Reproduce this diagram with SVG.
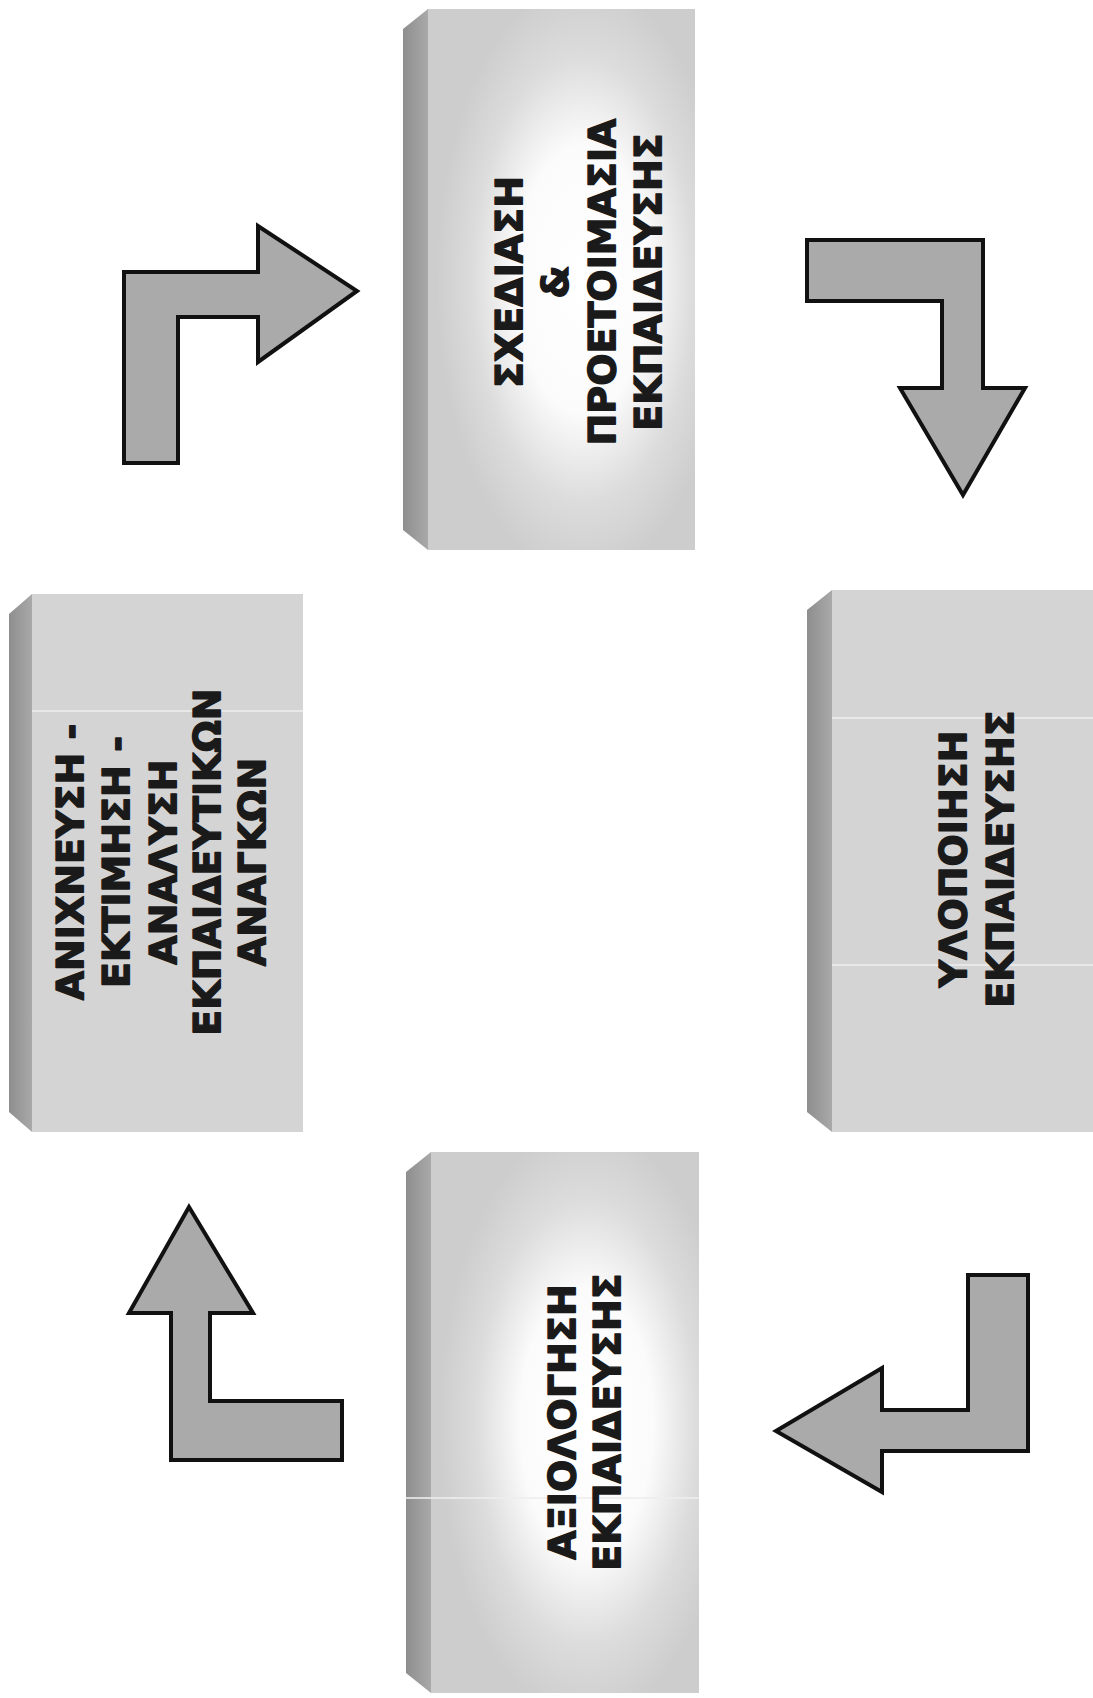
<svg xmlns="http://www.w3.org/2000/svg" width="1093" height="1698" viewBox="0 0 1093 1698">
  <style>
    .lbl { font-family: "DejaVu Sans", Verdana, sans-serif; font-weight: bold; font-size: 38px; fill: #1a1a1a; stroke: #1a1a1a; stroke-width: 1.4; stroke-linejoin: round; text-anchor: middle; }
    .side { fill: url(#sideShade); }
    .flat { fill: #d4d4d4; }
    .glow { fill: url(#frontGlow); }
    .arrow { fill: #aaaaaa; stroke: #111111; stroke-width: 4; stroke-linejoin: miter; }
    .streak { stroke: #eeeeee; stroke-width: 2; opacity: 0.8; }
  </style>
  <defs>
    <linearGradient id="sideShade" x1="0" y1="0" x2="1" y2="0">
      <stop offset="0" stop-color="#8e8e8e"/>
      <stop offset="1" stop-color="#a9a9a9"/>
    </linearGradient>
    <radialGradient id="frontGlow" cx="0.58" cy="0.5" r="0.55">
      <stop offset="0" stop-color="#ffffff"/>
      <stop offset="0.45" stop-color="#fbfbfb"/>
      <stop offset="0.75" stop-color="#dcdcdc"/>
      <stop offset="1" stop-color="#cdcdcd"/>
    </radialGradient>
  </defs>

  <rect width="1093" height="1698" fill="#ffffff"/>

  <!-- design & preparation -->
  <g id="node-design">
    <polygon class="side" points="403,29 428,9 428,550 403,530"/>
    <rect class="glow" x="428" y="9" width="267" height="541"/>
    <text class="lbl" transform="translate(522,282) rotate(-90)">ΣΧΕΔΙΑΣΗ</text>
    <text class="lbl" transform="translate(568,282) rotate(-90)">&amp;</text>
    <text class="lbl" transform="translate(615,282) rotate(-90)">ΠΡΟΕΤΟΙΜΑΣΙΑ</text>
    <text class="lbl" transform="translate(661,282) rotate(-90)">ΕΚΠΑΙΔΕΥΣΗΣ</text>
  </g>

  <!-- needs detection / assessment / analysis -->
  <g id="node-needs">
    <polygon class="side" points="9,614 32,594 32,1132 9,1112"/>
    <rect class="flat" x="32" y="594" width="271" height="538"/>
    <line class="streak" x1="32" y1="711" x2="303" y2="711"/>
    <text class="lbl" transform="translate(83,862) rotate(-90)">ΑΝΙΧΝΕΥΣΗ -</text>
    <text class="lbl" transform="translate(129,862) rotate(-90)">ΕΚΤΙΜΗΣΗ -</text>
    <text class="lbl" transform="translate(176,862) rotate(-90)">ΑΝΑΛΥΣΗ</text>
    <text class="lbl" transform="translate(220,862) rotate(-90)">ΕΚΠΑΙΔΕΥΤΙΚΩΝ</text>
    <text class="lbl" transform="translate(265,862) rotate(-90)">ΑΝΑΓΚΩΝ</text>
  </g>

  <!-- implementation -->
  <g id="node-implementation">
    <polygon class="side" points="807,610 832,590 832,1132 807,1112"/>
    <rect class="flat" x="832" y="590" width="261" height="542" fill="#d0d0d0"/>
    <line class="streak" x1="832" y1="718" x2="1093" y2="718"/>
    <line class="streak" x1="832" y1="965" x2="1093" y2="965"/>
    <text class="lbl" transform="translate(966,859) rotate(-90)">ΥΛΟΠΟΙΗΣΗ</text>
    <text class="lbl" transform="translate(1013,859) rotate(-90)">ΕΚΠΑΙΔΕΥΣΗΣ</text>
  </g>

  <!-- evaluation -->
  <g id="node-evaluation">
    <polygon class="side" points="406,1172 431,1152 431,1693 406,1673"/>
    <rect class="glow" x="431" y="1152" width="268" height="541"/>
    <line class="streak" x1="406" y1="1498" x2="699" y2="1498" stroke="#ffffff"/>
    <text class="lbl" transform="translate(575,1422) rotate(-90)">ΑΞΙΟΛΟΓΗΣΗ</text>
    <text class="lbl" transform="translate(620,1422) rotate(-90)">ΕΚΠΑΙΔΕΥΣΗΣ</text>
  </g>

  <!-- bent block arrows linking the stages -->
  <g id="connectors">
    <polygon class="arrow" points="124,463 124,272 258,272 258,226 357,291 258,362 258,317 178,317 178,463"/>
    <polygon class="arrow" points="807,240 983,240 983,388 1025,388 963,495 900,388 942,388 942,301 807,301"/>
    <polygon class="arrow" points="968,1275 1028,1275 1028,1451 882,1451 882,1492 776,1431 882,1368 882,1410 968,1410"/>
    <polygon class="arrow" points="189,1207 253,1313 210,1313 210,1401 342,1401 342,1460 171,1460 171,1313 129,1313"/>
  </g>
</svg>
